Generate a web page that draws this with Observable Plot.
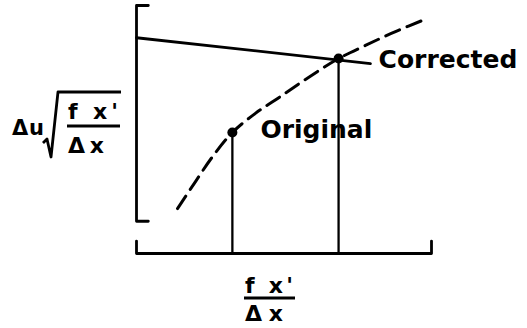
<!DOCTYPE html>
<html>
<head>
<meta charset="utf-8">
<script src="https://cdn.jsdelivr.net/npm/d3@7"></script>
<script src="https://cdn.jsdelivr.net/npm/@observablehq/plot@0.6"></script>
<style>
  html, body { margin: 0; padding: 0; background: #fff; }
  #chart svg { display: block; }
</style>
</head>
<body>
<div id="chart"></div>
<script>
// Schematic: effect of the correction on the scaled velocity step.
// Abstract units on both axes (0–100), no numeric ticks.

// Dashed curve through the original/corrected states
const curveX = [13.9, 20.0, 25.8, 32.5, 40.3, 48.8, 58.3, 68.5, 77.6, 87.8, 98.6];
const curveY = [18.1, 29.0, 39.1, 48.8, 56.5, 63.3, 71.0, 78.6, 83.9, 89.5, 94.8];

// Solid "corrected" line
const corrX = [0, 79.3];
const corrY = [87.0, 76.6];

// Marked states
const stateNames = ["Original", "Corrected"];
const stateX = [32.5, 68.5];
const stateY = [48.8, 78.6];

// Axis brackets (extent of each axis and length of its end serifs)
const xSpan = [0, 100];
const ySpan = [13, 100];
const serifX = 4;
const serifY = 5;

const curve = curveX.map((x, i) => ({x, y: curveY[i]}));
const corrected = corrX.map((x, i) => ({x, y: corrY[i]}));
const states = stateNames.map((name, i) => ({name, x: stateX[i], y: stateY[i]}));

const xBracket = [
  {x: xSpan[0], y: serifY}, {x: xSpan[0], y: 0},
  {x: xSpan[1], y: 0}, {x: xSpan[1], y: serifY}
];
const yBracket = [
  {x: serifX, y: ySpan[0]}, {x: 0, y: ySpan[0]},
  {x: 0, y: ySpan[1]}, {x: serifX, y: ySpan[1]}
];

const font = "DejaVu Sans";

const svg = Plot.plot({
  width: 527,
  height: 328,
  marginLeft: 136,
  marginRight: 96,
  marginTop: 5,
  marginBottom: 75,
  x: {domain: [0, 100], axis: null},
  y: {domain: [0, 100], axis: null},
  style: {fontFamily: font, background: "#fff"},
  marks: [
    Plot.line(xBracket, {x: "x", y: "y", stroke: "#000", strokeWidth: 2.8}),
    Plot.line(yBracket, {x: "x", y: "y", stroke: "#000", strokeWidth: 2.8}),
    Plot.ruleX(states, {x: "x", y1: 0, y2: "y", stroke: "#000", strokeWidth: 2.3}),
    Plot.line(curve, {x: "x", y: "y", curve: "catmull-rom", stroke: "#000",
      strokeWidth: 3, strokeDasharray: "15,8"}),
    Plot.line(corrected, {x: "x", y: "y", stroke: "#000", strokeWidth: 2.8}),
    Plot.dot(states, {x: "x", y: "y", r: 5, fill: "#000", stroke: null}),
    Plot.text(states.filter(d => d.name === "Original"), {
      x: "x", y: "y", text: "name", textAnchor: "start", dx: 28, dy: -2,
      fontSize: 25, fontWeight: "bold", fill: "#000"
    }),
    Plot.text(states.filter(d => d.name === "Corrected"), {
      x: "x", y: "y", text: "name", textAnchor: "start", dx: 40, dy: 1,
      fontSize: 25, fontWeight: "bold", fill: "#000",
      style: "letter-spacing:0.6px"
    })
  ]
});

// Axis titles: Δu·sqrt(f x'/Δx) on the left, f x'/Δx below
const g = d3.select(svg).append("g")
  .attr("font-family", font)
  .attr("font-weight", "bold")
  .attr("text-anchor", "start")
  .attr("fill", "#000");

function frac(x0, x1, barY, numBase, denBase, numLen, denLen) {
  g.append("text").attr("x", x0 + 1).attr("y", numBase).attr("font-size", 22)
    .attr("textLength", numLen).attr("lengthAdjust", "spacing").text("f x'");
  g.append("line").attr("x1", x0).attr("x2", x1).attr("y1", barY).attr("y2", barY)
    .attr("stroke", "#000").attr("stroke-width", 2.8);
  g.append("text").attr("x", x0 + 1).attr("y", denBase).attr("font-size", 22)
    .attr("textLength", denLen).attr("lengthAdjust", "spacing").text("\u0394x");
}

// y title
g.append("text").attr("x", 12).attr("y", 135).attr("font-size", 21)
  .attr("textLength", 32).attr("lengthAdjust", "spacing").text("\u0394u");
g.append("path")
  .attr("d", "M43,143 L47,139 L51,157 L58,92 H121")
  .attr("fill", "none").attr("stroke", "#000").attr("stroke-width", 2.8)
  .attr("stroke-linejoin", "round");
frac(67, 120, 126, 119, 153, 50, 36);

// x title
frac(244, 295, 298, 293, 321, 48, 38);

document.getElementById("chart").appendChild(svg);
</script>
</body>
</html>
